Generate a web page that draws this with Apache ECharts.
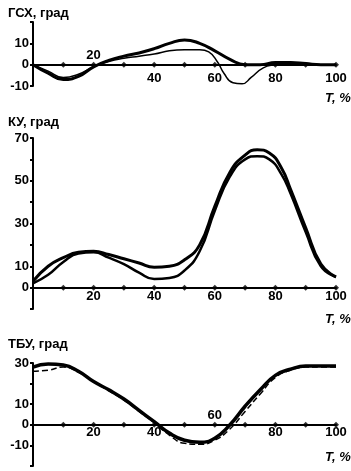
<!DOCTYPE html>
<html>
<head>
<meta charset="utf-8">
<script src="https://cdn.jsdelivr.net/npm/echarts@6/dist/echarts.min.js"></script>
<style>
  html, body { margin: 0; padding: 0; background: #fff; }
  #main { width: 351px; height: 471px; }
</style>
</head>
<body>
<div id="main"></div>
<script>
// T, % (cycle) and angles
const hipT_A = [0, 5, 10, 15, 20, 25, 30, 35, 40, 45, 50, 55, 60, 65, 70, 75, 80, 85, 90, 95, 100];
const hipA   = [0, -4, -7, -5.5, -1, 2, 4, 5.5, 7.5, 10, 11.6, 10, 6.5, 2.5, 0, 0, 1, 1, 0.5, 0, 0];
const hipT_B = [0, 5, 10, 15, 20, 25, 30, 35, 40, 45, 50, 55, 58, 61, 63, 66, 69, 72, 76, 80, 85, 90, 95, 100];
const hipB   = [0, -3, -6, -4.5, -1, 1.5, 3, 4, 5, 6.5, 7, 7, 6, 1, -4, -8.5, -9, -6, -1.5, 0, 1, 0.5, 0, 0];

const kneeT = [0, 5, 10, 15, 20, 25, 30, 35, 40, 45, 50, 55, 60, 65, 70, 74, 78, 82, 85, 90, 95, 100];
const kneeA = [3, 10, 14, 16.5, 17, 15.5, 13.5, 11.5, 9.5, 10, 13, 20, 38, 54, 62, 64.5, 63, 56, 46, 28, 11, 5];
const kneeB = [2, 6, 12, 16, 16.5, 14, 11, 7, 4, 4.5, 8, 17, 36, 52, 60, 61.5, 60, 53, 44, 26, 10, 5];

const ankleT = [0, 5, 10, 15, 20, 25, 30, 35, 40, 45, 50, 55, 60, 65, 70, 75, 80, 85, 90, 95, 100];
const ankleA = [28, 29.5, 29, 26, 21, 17, 12.5, 7, 1.5, -4, -7.5, -8.5, -6.5, 0, 9, 17, 24, 27, 28.5, 28.5, 28.5];
const ankleB = [26, 26.5, 28, 25.5, 21, 16.5, 12, 6.5, 1, -5, -9, -9.5, -7.5, -2, 6.5, 15, 23, 26.5, 28, 28, 28];

const tickT = [10, 20, 30, 40, 50, 60, 70, 80, 90, 100];
const hipYLabels = [10, 0, -10];
const kneeYLabels = [70, 50, 30, 10, 0];
const ankleYLabels = [30, 10, 0, -10];
// x labels written under the axis, and the ones the scan prints above it
const hipXBelow = [40, 60, 80, 100];
const hipXAbove = [20];
const kneeXBelow = [20, 40, 60, 80, 100];
const ankleXBelow = [20, 40, 80, 100];
const ankleXAbove = [60];

const pairs = (xs, ys) => xs.map((x, i) => [x, ys[i]]);
const font = 'Liberation Sans';
const txt = { color: '#000', fontFamily: font, fontWeight: 'bold', fontSize: 13 };

const chart = echarts.init(document.getElementById('main'));

const grids = [
  { left: 33, width: 303, top: 22, height: 64 },
  { left: 33, width: 303, top: 138, height: 171 },
  { left: 33, width: 303, top: 363, height: 103 }
];

// zero line sits above the grid bottom, so the x axis is lifted with offset
const xAxisFor = (i, lift, margin, shown, inside) => ({
  gridIndex: i, type: 'value', min: 0, max: 100, interval: 20,
  position: 'bottom', offset: -lift,
  axisLine: { show: !inside, onZero: false, lineStyle: { color: '#000', width: 2 } },
  axisTick: { show: false },
  splitLine: { show: false },
  axisLabel: {
    ...txt, margin: margin, inside: !!inside,
    formatter: v => shown.includes(v) ? String(v) : ''
  }
});

const yAxisFor = (i, min, max, labels) => ({
  gridIndex: i, type: 'value', min: min, max: max, interval: 10,
  axisLine: { lineStyle: { color: '#000', width: 2 } },
  axisTick: { length: 3, lineStyle: { color: '#000', width: 2 } },
  splitLine: { show: false },
  axisLabel: { ...txt, margin: 4, formatter: v => labels.includes(v) ? String(v) : '' }
});

const line = (i, data, width, dash) => ({
  type: 'line', xAxisIndex: i, yAxisIndex: i, data: data,
  smooth: true, symbol: 'none',
  lineStyle: { color: '#000', width: width, type: dash || 'solid' }
});

const ticks = i => ({
  type: 'scatter', xAxisIndex: i, yAxisIndex: i,
  data: tickT.map(t => [t, 0]),
  symbol: 'diamond', symbolSize: 6,
  itemStyle: { color: '#000' }
});

const italic = { ...txt, fontStyle: 'italic' };

const option = {
  animation: false,
  backgroundColor: '#fff',
  title: [
    { text: 'ГСХ, град', left: 3, top: 2, textStyle: txt },
    { text: 'КУ, град', left: 3, top: 111, textStyle: txt },
    { text: 'ТБУ, град', left: 3, top: 333, textStyle: txt },
    { text: 'T, %', left: 320, top: 87, textStyle: italic },
    { text: 'T, %', left: 320, top: 308, textStyle: italic },
    { text: 'T, %', left: 320, top: 446, textStyle: italic }
  ],
  grid: grids,
  xAxis: [
    xAxisFor(0, 21.3, 7, hipXBelow),
    xAxisFor(1, 21.4, 2, kneeXBelow),
    xAxisFor(2, 41.2, 1, ankleXBelow),
    xAxisFor(0, 21.3, 3, hipXAbove, true),
    xAxisFor(2, 41.2, 3, ankleXAbove, true)
  ],
  yAxis: [
    yAxisFor(0, -10, 20, hipYLabels),
    yAxisFor(1, -10, 70, kneeYLabels),
    yAxisFor(2, -20, 30, ankleYLabels)
  ],
  series: [
    line(0, pairs(hipT_A, hipA), 3),
    line(0, pairs(hipT_B, hipB), 1.5),
    ticks(0),
    line(1, pairs(kneeT, kneeA), 3),
    line(1, pairs(kneeT, kneeB), 2.5),
    ticks(1),
    line(2, pairs(ankleT, ankleA), 3.5),
    line(2, pairs(ankleT, ankleB), 1.5, 'dashed'),
    ticks(2)
  ]
};

chart.setOption(option);
</script>
</body>
</html>
